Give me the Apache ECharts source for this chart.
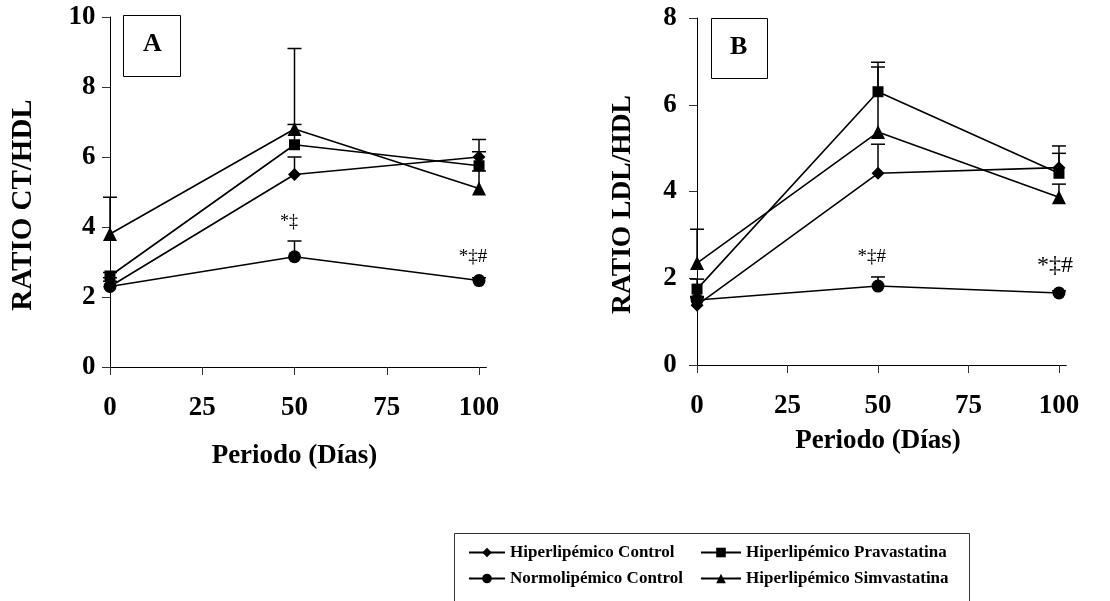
<!DOCTYPE html>
<html>
<head>
<meta charset="utf-8">
<script src="https://cdn.jsdelivr.net/npm/echarts@6/dist/echarts.min.js"></script>
<style>
  html, body { margin: 0; padding: 0; background: #fff; }
  #main { width: 1110px; height: 601px; }
</style>
</head>
<body>
<div id="main"></div>
<script>
// días del periodo
var dias = [0, 50, 100];
var xTicks = [0, 25, 50, 75, 100];

// panel A: ratio CT/HDL (media y error superior)
var ctHipControl = [2.3, 5.5, 6.0];
var ctHipControlErr = [0.25, 0.5, 0.5];
var ctPrava = [2.6, 6.35, 5.75];
var ctPravaErr = [0.1, 0.58, 0.4];
var ctNormo = [2.3, 3.15, 2.47];
var ctNormoErr = [0.15, 0.45, 0.08];
var ctSimva = [3.8, 6.8, 5.1];
var ctSimvaErr = [1.05, 2.3, 0.5];

// panel B: ratio LDL/HDL
var ldlHipControl = [1.38, 4.42, 4.55];
var ldlHipControlErr = [0.2, 0.67, 0.5];
var ldlPrava = [1.75, 6.3, 4.42];
var ldlPravaErr = [0.23, 0.68, 0.46];
var ldlNormo = [1.5, 1.82, 1.66];
var ldlNormoErr = [0.05, 0.21, 0.05];
var ldlSimva = [2.35, 5.37, 3.87];
var ldlSimvaErr = [0.78, 1.5, 0.3];

// marcas de significación [x, y, texto, tamaño]
var sigA = [[48.5, 4.14, '*‡', 18], [98.4, 3.14, '*‡#', 19]];
var sigB = [[48.3, 2.49, '*‡#', 19], [98.9, 2.3, '*‡#', 24]];

var serif = 'Liberation Serif';
var names = ['Hiperlipémico Control', 'Hiperlipémico Pravastatina', 'Normolipémico Control', 'Hiperlipémico Simvastatina'];
var symbols = ['diamond', 'rect', 'circle', 'triangle'];
var symbolSizes = [13, 11, 13, 14];

function pairs(v) {
  return dias.map(function (d, i) { return [d, v[i]]; });
}
function triples(v, e) {
  return dias.map(function (d, i) { return [d, v[i], e[i]]; });
}

function renderErr(params, api) {
  var x = api.value(0), y = api.value(1), e = api.value(2);
  var p0 = api.coord([x, y]);
  var p1 = api.coord([x, y + e]);
  var st = { stroke: '#000', lineWidth: 1.5 };
  return {
    type: 'group',
    children: [
      { type: 'line', shape: { x1: p0[0], y1: p0[1], x2: p1[0], y2: p1[1] }, style: st },
      { type: 'line', shape: { x1: p1[0] - 7, y1: p1[1], x2: p1[0] + 7, y2: p1[1] }, style: st }
    ]
  };
}

function renderSig(params, api) {
  var p = api.coord([api.value(0), api.value(1)]);
  var size = api.value(3) || 16;
  return {
    type: 'text',
    x: p[0], y: p[1],
    style: {
      text: api.value(2),
      font: size + 'px "' + serif + '"',
      fill: '#000',
      align: 'center',
      verticalAlign: 'middle'
    }
  };
}

function xAxisFor(idx, gap) {
  return {
    type: 'value', gridIndex: idx, min: -2, max: 102,
    name: 'Periodo (Días)', nameLocation: 'middle', nameGap: gap,
    nameTextStyle: { fontFamily: serif, fontWeight: 'bold', fontSize: 27, color: '#000' },
    axisLine: { lineStyle: { color: '#000', width: 1 } },
    axisTick: { show: true, length: 8, customValues: xTicks, lineStyle: { color: '#333' } },
    axisLabel: { customValues: xTicks, margin: 28, fontFamily: serif, fontWeight: 'bold', fontSize: 27, color: '#000' },
    splitLine: { show: false }
  };
}

function yAxisFor(idx, max, title, gap, margin, size) {
  return {
    type: 'value', gridIndex: idx, min: 0, max: max, interval: 2,
    name: title, nameLocation: 'middle', nameGap: gap, nameRotate: 90,
    nameTextStyle: { fontFamily: serif, fontWeight: 'bold', fontSize: size, color: '#000', padding: [0, 26, 0, 0] },
    axisLine: { show: true, onZero: true, lineStyle: { color: '#000', width: 1 } },
    axisTick: { show: true, length: 8, lineStyle: { color: '#333' } },
    axisLabel: { margin: margin, fontFamily: serif, fontWeight: 'bold', fontSize: 27, color: '#000' },
    splitLine: { show: false }
  };
}

var panelData = [
  [ctHipControl, ctPrava, ctNormo, ctSimva],
  [ldlHipControl, ldlPrava, ldlNormo, ldlSimva]
];
var panelErr = [
  [ctHipControlErr, ctPravaErr, ctNormoErr, ctSimvaErr],
  [ldlHipControlErr, ldlPravaErr, ldlNormoErr, ldlSimvaErr]
];
var panelSig = [sigA, sigB];

var series = [];
for (var p = 0; p < 2; p++) {
  for (var s = 0; s < 4; s++) {
    series.push({
      type: 'custom', name: 'err' + p + s,
      xAxisIndex: p, yAxisIndex: p,
      renderItem: renderErr,
      encode: { x: 0, y: 1 },
      data: triples(panelData[p][s], panelErr[p][s]),
      z: 2
    });
  }
  for (var s2 = 0; s2 < 4; s2++) {
    series.push({
      type: 'line', name: names[s2],
      xAxisIndex: p, yAxisIndex: p,
      data: pairs(panelData[p][s2]),
      symbol: symbols[s2], symbolSize: symbolSizes[s2],
      showAllSymbol: true,
      lineStyle: { color: '#000', width: 1.6 },
      itemStyle: { color: '#000', borderWidth: 0 },
      z: 3
    });
  }
  series.push({
    type: 'custom', name: 'sig' + p,
    xAxisIndex: p, yAxisIndex: p,
    renderItem: renderSig,
    encode: { x: 0, y: 1 },
    data: panelSig[p],
    z: 4
  });
}

var legendText = { fontFamily: serif, fontWeight: 'bold', fontSize: 17, color: '#000' };

var myChart = echarts.init(document.getElementById('main'), null, { renderer: 'canvas' });
var option = {
  animation: false,
  backgroundColor: '#fff',
  grid: [
    { left: 102.6, top: 17, width: 383.8, height: 350 },
    { left: 689.8, top: 18, width: 376.4, height: 347 }
  ],
  xAxis: [xAxisFor(0, 76), xAxisFor(1, 63)],
  yAxis: [
    yAxisFor(0, 10, 'RATIO CT/HDL', 65, 7, 29),
    yAxisFor(1, 8, 'RATIO LDL/HDL', 53, 13, 27.5)
  ],
  legend: [
    {
      left: 463, top: 539, orient: 'vertical', itemGap: 9,
      itemWidth: 36, itemHeight: 12, textStyle: legendText,
      data: [names[0], names[2]], selectedMode: false
    },
    {
      left: 695, top: 539, orient: 'vertical', itemGap: 9,
      itemWidth: 40, itemHeight: 12, textStyle: legendText,
      data: [names[1], names[3]], selectedMode: false
    }
  ],
  graphic: [
    {
      type: 'rect', left: 123, top: 15,
      shape: { width: 57, height: 61 },
      style: { fill: '#fff', stroke: '#000', lineWidth: 1 }
    },
    {
      type: 'text', left: 143, top: 31,
      style: { text: 'A', font: 'bold 26px "' + serif + '"', fill: '#000' }
    },
    {
      type: 'rect', left: 711, top: 18,
      shape: { width: 56, height: 60 },
      style: { fill: '#fff', stroke: '#000', lineWidth: 1 }
    },
    {
      type: 'text', left: 730, top: 34,
      style: { text: 'B', font: 'bold 26px "' + serif + '"', fill: '#000' }
    },
    {
      type: 'rect', left: 452, top: 531,
      shape: { width: 515, height: 90 },
      style: { fill: 'none', stroke: '#333', lineWidth: 1 },
      z: -1
    }
  ],
  series: series
};
myChart.setOption(option);
</script>
</body>
</html>
